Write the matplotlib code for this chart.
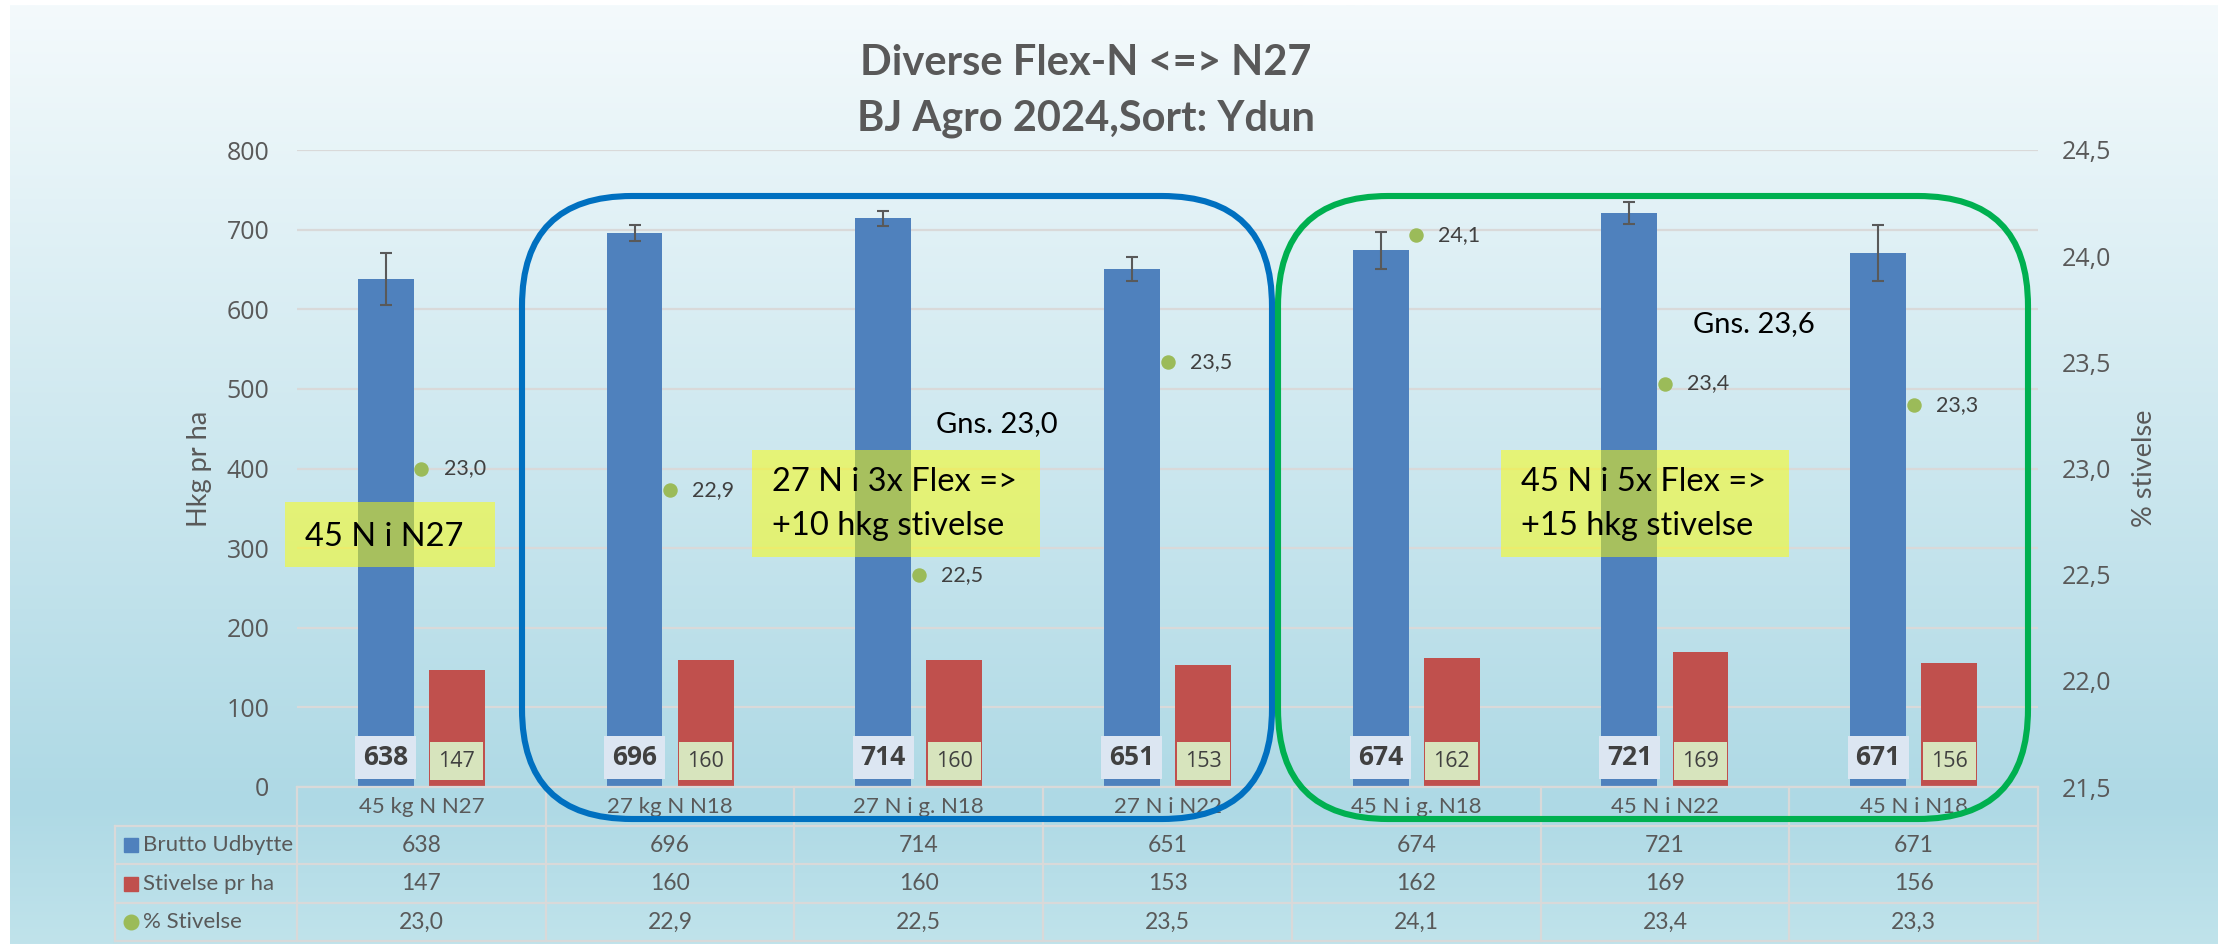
import numpy as np
import matplotlib
matplotlib.use("Agg")
import matplotlib.pyplot as plt
from matplotlib.patches import Rectangle, FancyBboxPatch
from matplotlib.ticker import MultipleLocator

# ---- data -------------------------------------------------------------
categories = ["45 kg N N27", "27 kg N N18", "27 N i g. N18", "27 N i N22",
              "45 N i g. N18", "45 N i N22", "45 N i N18"]
brutto = [638, 696, 714, 651, 674, 721, 671]          # Brutto Udbytte, hkg/ha
brutto_err = [33, 10, 9, 15, 23, 14, 35]              # error bars on Brutto
stivelse = [147, 160, 160, 153, 162, 169, 156]        # Stivelse pr ha
pct_stivelse = [23.0, 22.9, 22.5, 23.5, 24.1, 23.4, 23.3]  # % Stivelse
series_names = ["Brutto Udbytte", "Stivelse pr ha", "% Stivelse"]
left_ticks = [0, 100, 200, 300, 400, 500, 600, 700, 800]
right_ticks = [21.5, 22.0, 22.5, 23.0, 23.5, 24.0, 24.5]
title_lines = ["Diverse Flex-N <=> N27", "BJ Agro 2024,Sort: Ydun"]
group_notes = [["45 N i N27"],
               ["27 N i 3x Flex =>", "+10 hkg stivelse"],
               ["45 N i 5x Flex =>", "+15 hkg stivelse"]]
avg_notes = ["Gns. 23,0", "Gns. 23,6"]

# ---- colours / fonts --------------------------------------------------
BLUE, RED, GREEN = "#4f81bd", "#c0504d", "#9bbb59"
GRAY_TXT, DARK_TXT, GRID = "#595959", "#404040", "#d9d9d9"
F_MAIN, F_TICK = "Lato", "Open Sans"

def comma(v, dec=1):
    return f"{v:.{dec}f}".replace(".", ",")

W, H, DPI = 2224, 944, 100
fig = plt.figure(figsize=(W / DPI, H / DPI), dpi=DPI)
fig.patch.set_facecolor("white")

def fx(px):
    return px / W

def fy(py):
    return 1 - py / H

# ---- gradient background ---------------------------------------------
bg = fig.add_axes([fx(10), 0, fx(2218) - fx(10), fy(5)])
t = np.linspace(0, 1, 500)
stops_t = [0.0, 0.85, 1.0]
stops_c = [(244, 250, 252), (174, 217, 229), (192, 227, 235)]
grad = np.zeros((500, 1, 3))
for c in range(3):
    grad[:, 0, c] = np.interp(t, stops_t, [s[c] for s in stops_c]) / 255
bg.imshow(grad, aspect="auto", extent=[0, 1, 0, 1], origin="upper")
bg.axis("off")
bg.set_zorder(-10)

# ---- main plot -------------------------------------------------------
PL, PR, PT, PB = 297, 2038, 150, 787
ax = fig.add_axes([fx(PL), fy(PB), fx(PR) - fx(PL), fy(PT) - fy(PB)])
ax.set_facecolor("none")
n = len(categories)
x = np.arange(n)
ax.set_xlim(-0.5, n - 0.5)
ax.set_ylim(left_ticks[0], left_ticks[-1])
ax.set_yticks(left_ticks)
ax.set_yticklabels([str(v) for v in left_ticks], fontfamily=F_TICK,
                   fontsize=18, color=GRAY_TXT)
ax.tick_params(axis="y", length=0, pad=20)
ax.set_xticks([])
ax.grid(axis="y", color=GRID, lw=1.6)
ax.set_axisbelow(True)
for s in ax.spines.values():
    s.set_visible(False)

bw, off = 0.225, 0.143
ax.bar(x - off, brutto, bw, color=BLUE, zorder=2)
ax.bar(x + off, stivelse, bw, color=RED, zorder=2)
ax.errorbar(x - off, brutto, yerr=brutto_err, fmt="none", ecolor=GRAY_TXT,
            elinewidth=1.5, capsize=4.3, capthick=1.5, zorder=3)

# value labels at the base of the bars
for xi, b, s in zip(x, brutto, stivelse):
    ax.add_patch(Rectangle((xi - off - 0.1225, 10), 0.245, 54,
                           fc="#dce6f2", ec="none", zorder=4))
    ax.text(xi - off, 37, str(b), ha="center", va="center", fontsize=19,
            fontweight="bold", fontfamily=F_TICK, color=DARK_TXT, zorder=5)
    ax.add_patch(Rectangle((xi + off - 0.1065, 8.8), 0.213, 47.7,
                           fc="#d7e4bd", ec="none", zorder=4))
    ax.text(xi + off, 32.5, str(s), ha="center", va="center", fontsize=15.5,
            fontfamily=F_TICK, color=DARK_TXT, zorder=5)

# secondary axis: % stivelse
ax2 = ax.twinx()
ax2.set_facecolor("none")
ax2.set_ylim(right_ticks[0], right_ticks[-1])
ax2.set_yticks(right_ticks)
ax2.set_yticklabels([comma(v) for v in right_ticks], fontfamily=F_TICK,
                    fontsize=18, color=GRAY_TXT)
ax2.tick_params(axis="y", length=0, pad=17)
for s in ax2.spines.values():
    s.set_visible(False)
ax2.plot(x, pct_stivelse, "o", color=GREEN, ms=9.4, zorder=4)
for xi, p in zip(x, pct_stivelse):
    ax2.annotate(comma(p), (xi, p), xytext=(16, 0), textcoords="offset points",
                 ha="left", va="center", fontsize=15.5, fontfamily=F_MAIN,
                 color=DARK_TXT)

fig.text(fx(200), fy(469), "Hkg pr ha", rotation=90, ha="center", va="center",
         fontsize=19.5, fontfamily=F_MAIN, color=GRAY_TXT)
fig.text(fx(2145), fy(468), "% stivelse", rotation=90, ha="center",
         va="center", fontsize=19.5, fontfamily=F_MAIN, color=GRAY_TXT)

# ---- data table under the plot ---------------------------------------
TL, TB = 115, 941
rows_y = [787, 826, 864, 903, 941]
cat_px = (PR - PL) / n
x0 = -0.5 - (PL - TL) / cat_px
tab = fig.add_axes([fx(TL), fy(TB), fx(PR) - fx(TL), fy(rows_y[0]) - fy(TB)])
tab.set_xlim(x0, n - 0.5)
tab.set_ylim(TB, rows_y[0])
tab.axis("off")
lk = dict(color=GRID, lw=1.6, clip_on=False)
tab.plot([-0.5, n - 0.5], [rows_y[0]] * 2, **lk)
for yy in rows_y[1:]:
    tab.plot([x0, n - 0.5], [yy, yy], **lk)
for k in range(n + 1):
    tab.plot([k - 0.5] * 2, [rows_y[0], TB], **lk)
tab.plot([x0] * 2, [rows_y[1], TB], **lk)

row_c = [(rows_y[i] + rows_y[i + 1]) / 2 for i in range(4)]
for xi, c in zip(x, categories):
    tab.text(xi, row_c[0], c, ha="center", va="center", fontsize=16,
             fontfamily=F_MAIN, color=GRAY_TXT)
for r, vals in enumerate([[str(v) for v in brutto],
                          [str(v) for v in stivelse],
                          [comma(v) for v in pct_stivelse]]):
    for xi, v in zip(x, vals):
        tab.text(xi, row_c[r + 1], v, ha="center", va="center", fontsize=16.5,
                 fontfamily=F_MAIN, color=GRAY_TXT)

key_x = x0 + (131 - TL) / cat_px
txt_x = x0 + (143 - TL) / cat_px
for r, (name, col) in enumerate(zip(series_names, [BLUE, RED, GREEN])):
    yc = row_c[r + 1]
    if r < 2:
        tab.plot([key_x], [yc], "s", color=col, ms=10.5, clip_on=False)
    else:
        tab.plot([key_x], [yc], "o", color=col, ms=10.5, clip_on=False)
    tab.text(txt_x, yc, name, ha="left", va="center", fontsize=16,
             fontfamily=F_MAIN, color=GRAY_TXT)

# ---- overlay: group frames, notes and title ---------------------------
ov = fig.add_axes([0, 0, 1, 1])
ov.set_xlim(0, W)
ov.set_ylim(H, 0)
ov.axis("off")
ov.set_zorder(10)
for x_left, col in [(522, "#0070c0"), (1278, "#00b050")]:
    ov.add_patch(FancyBboxPatch((x_left, 196), 750, 623,
                                boxstyle="round,pad=0,rounding_size=110",
                                fc="none", ec=col, lw=4.4))

note_boxes = [(285, 502, 210, 65), (752, 450, 288, 107), (1501, 450, 288, 107)]
note_text_x = [305, 772, 1521]
for (bx, by, bw_, bh), tx, lines in zip(note_boxes, note_text_x, group_notes):
    ov.add_patch(Rectangle((bx, by), bw_, bh, fc=(1, 1, 0, 0.5), ec="none"))
    baselines = [546] if len(lines) == 1 else [491, 535]
    for line, yb in zip(lines, baselines):
        ov.text(tx, yb, line, ha="left", va="baseline", fontsize=23.5,
                fontfamily=F_MAIN, color="black")

for (cx, yb), note in zip([(997, 432), (1754, 332)], avg_notes):
    ov.text(cx, yb, note, ha="center", va="baseline", fontsize=21,
            fontfamily=F_MAIN, color="black")

for line, yb in zip(title_lines, [75, 131]):
    ov.text(1086, yb, line, ha="center", va="baseline", fontsize=30,
            fontweight="bold", fontfamily=F_MAIN, color=GRAY_TXT)

fig.savefig("out.png", dpi=DPI, facecolor=fig.get_facecolor())
